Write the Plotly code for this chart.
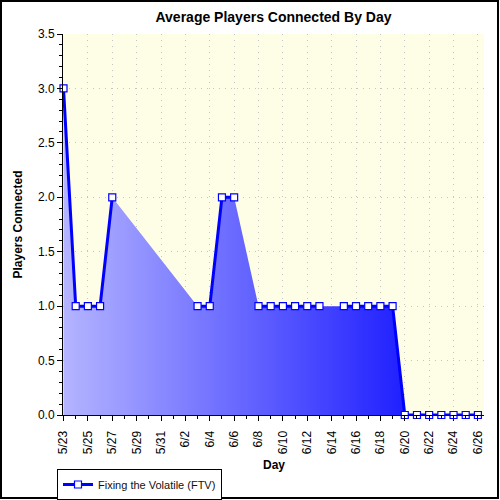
import plotly.graph_objects as go

# ---- data ----
dates = ["2009-05-23", "2009-05-24", "2009-05-25", "2009-05-26", "2009-05-27",
         "2009-05-28", "2009-05-29", "2009-05-30", "2009-05-31", "2009-06-01", "2009-06-02",
         "2009-06-03", "2009-06-04", "2009-06-05", "2009-06-06", "2009-06-07",
         "2009-06-08", "2009-06-09", "2009-06-10", "2009-06-11", "2009-06-12", "2009-06-13",
         "2009-06-14", "2009-06-15", "2009-06-16", "2009-06-17", "2009-06-18", "2009-06-19",
         "2009-06-20", "2009-06-21", "2009-06-22", "2009-06-23", "2009-06-24", "2009-06-25",
         "2009-06-26"]
players = [3, 1, 1, 1, 2,
           None, None, None, None, None, None,
           1, 1, 2, 2, None,
           1, 1, 1, 1, 1, 1,
           None, 1, 1, 1, 1, 1,
           0, 0, 0, 0, 0, 0, 0]
series_name = "Fixing the Volatile (FTV)"
title = "Average Players Connected By Day"
x_title = "Day"
y_title = "Players Connected"

# fill trace uses only recorded days (area spans gaps)
fill_x = [d for d, v in zip(dates, players) if v is not None]
fill_y = [v for v in players if v is not None]

FONT = "Liberation Sans, Arial, sans-serif"
GRID_DASH = "1px,5px"

fig = go.Figure()
fig.add_trace(go.Scatter(
    x=fill_x, y=fill_y, mode="none", fill="tozeroy",
    fillgradient=dict(type="horizontal",
                      colorscale=[[0, "#b4b4ff"], [1, "#0000ff"]]),
    showlegend=False, hoverinfo="skip"))
fig.add_trace(go.Scatter(
    x=dates, y=players, mode="lines+markers", name=series_name,
    connectgaps=False, cliponaxis=False,
    line=dict(color="#0000ff", width=3),
    marker=dict(symbol="square", size=7, color="white",
                line=dict(color="#0000ff", width=1.2))))

xrange = ["2009-05-22 23:00", "2009-06-26 12:00"]
fig.update_layout(
    width=500, height=500,
    margin=dict(l=63, r=16, t=34, b=85, autoexpand=False),
    paper_bgcolor="white", plot_bgcolor="#fefee6",
    font=dict(family=FONT, size=12, color="black"),
    title=dict(text="<b>" + title + "</b>", x=0.5, xref="paper", xanchor="center",
               y=1 - 17 / 500, yref="container", yanchor="middle",
               font=dict(size=14, family=FONT)),
    showlegend=True,
    legend=dict(x=57 / 500, y=1 - 469 / 500, xref="container", yref="container",
                xanchor="left", yanchor="top",
                bgcolor="white", bordercolor="black", borderwidth=1,
                font=dict(size=11, family=FONT, color="#111111"),
                itemwidth=30, tracegroupgap=0),
    xaxis=dict(
        type="date", range=xrange, automargin=False,
        tick0="2009-05-23", dtick=2 * 86400000, tickformat="%-m/%-d",
        tickangle=-90, ticks="outside", ticklen=5, tickcolor="black",
        ticklabelstandoff=5,
        showline=True, linecolor="black", linewidth=1,
        showgrid=True, gridcolor="#c4c4c4", griddash=GRID_DASH, gridwidth=1,
        zeroline=False,
        minor=dict(dtick=86400000, tick0="2009-05-23", ticks="outside",
                   ticklen=3, tickcolor="black", showgrid=False),
    ),
    yaxis=dict(
        range=[0, 3.5], dtick=0.5, tickformat=".1f", automargin=False,
        ticks="outside", ticklen=5, tickcolor="black",
        showline=True, linecolor="black", linewidth=1,
        showgrid=True, gridcolor="#c4c4c4", griddash=GRID_DASH, gridwidth=1,
        zeroline=False,
        minor=dict(dtick=0.1, ticks="outside", ticklen=3, tickcolor="black",
                   showgrid=False),
    ),
    xaxis2=dict(
        type="date", range=xrange, overlaying="x", side="top", matches="x",
        automargin=False,
        tick0="2009-05-23", dtick=2 * 86400000, ticks="inside", ticklen=5,
        tickcolor="black", showticklabels=False, showgrid=False,
        showline=True, linecolor="black", linewidth=1, zeroline=False,
        minor=dict(dtick=86400000, tick0="2009-05-23", ticks="inside",
                   ticklen=3, tickcolor="black", showgrid=False),
    ),
    yaxis2=dict(
        range=[0, 3.5], overlaying="y", side="right", dtick=0.5,
        automargin=False,
        ticks="inside", ticklen=5, tickcolor="black", showticklabels=False,
        showgrid=False, showline=True, linecolor="black", linewidth=1,
        zeroline=False,
        minor=dict(dtick=0.1, ticks="inside", ticklen=3, tickcolor="black",
                   showgrid=False),
    ),
)

# axis titles as annotations
fig.add_annotation(text="<b>" + y_title + "</b>", xref="paper", yref="paper",
                   x=(17 - 63) / 421, y=0.5, textangle=-90, showarrow=False,
                   xanchor="center", yanchor="middle",
                   font=dict(size=12, family=FONT, color="black"))
fig.add_annotation(text="<b>" + x_title + "</b>", xref="paper", yref="paper",
                   x=0.5, y=(415 - 465) / 381, showarrow=False,
                   xanchor="center", yanchor="middle",
                   font=dict(size=12, family=FONT, color="black"))

# outer border around the whole image
fig.add_shape(type="rect", xref="paper", yref="paper",
              x0=(1 - 63) / 421, x1=(498 - 63) / 421,
              y0=(415 - 498) / 381, y1=(415 - 1) / 381,
              line=dict(color="black", width=2), fillcolor="rgba(0,0,0,0)",
              layer="above")

fig.write_html("out.html")
